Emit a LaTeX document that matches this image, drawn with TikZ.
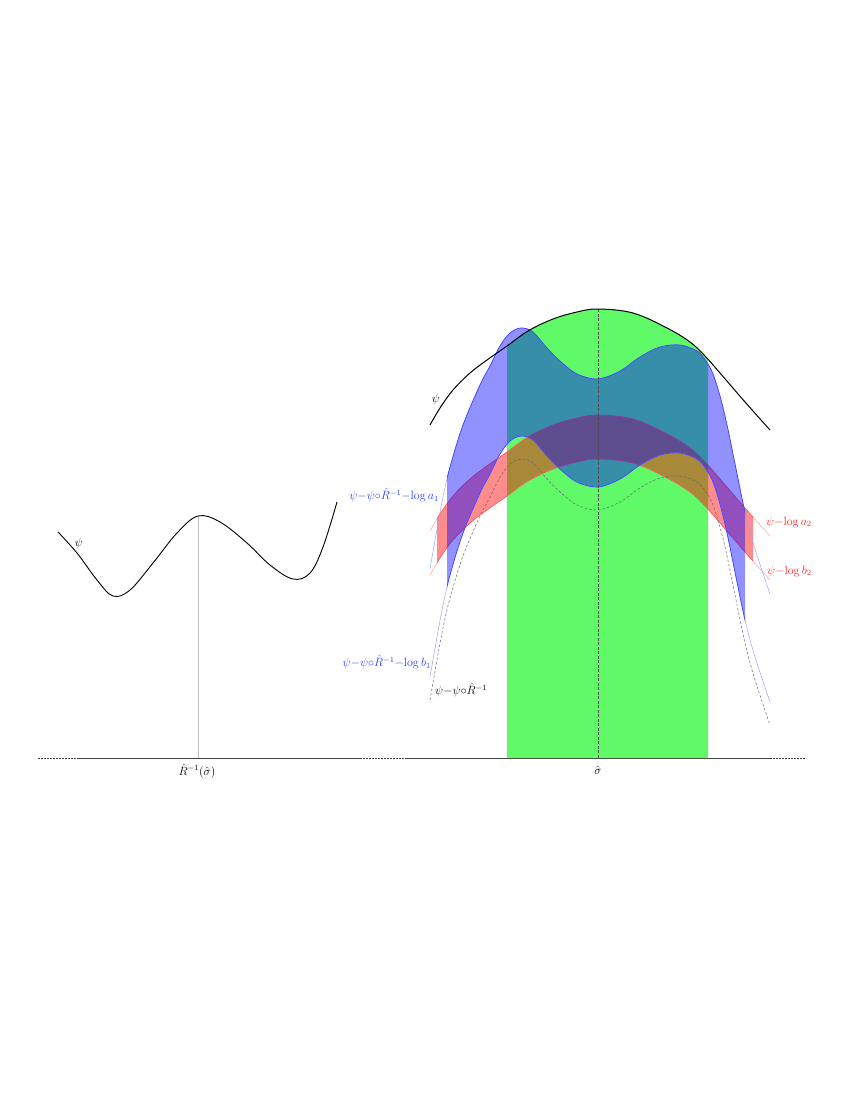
\documentclass[tikz,border=0pt]{standalone}
\definecolor{greenfill}{RGB}{96,250,104}
\definecolor{labelblue}{RGB}{35,60,255}
\definecolor{labelred}{RGB}{240,35,35}
\definecolor{bandblue}{RGB}{0,0,255}
\definecolor{bandred}{RGB}{255,0,0}
\tikzset{
  lbl/.style={inner sep=0pt, font=\fontsize{11.5}{13}\selectfont},
  bluelbl/.style={lbl, text=labelblue},
  redlbl/.style={lbl, text=labelred},
  axisdash/.style={draw=black!75, line width=0.7pt, dash pattern=on 2pt off 1pt},
  axissolid/.style={draw=black!75, line width=0.8pt},
  psiline/.style={draw=black, line width=1pt},
  bluefill/.style={fill=bandblue, fill opacity=0.43},
  redfill/.style={fill=bandred, fill opacity=0.45},
  bluethin/.style={draw=blue!40, line width=0.45pt},
  blueedge/.style={draw=blue!75, line width=0.7pt},
  redthin/.style={draw=red!40, line width=0.45pt},
  rededge/.style={draw=red!70, line width=0.5pt},
  graydash/.style={draw=black!60, line width=0.5pt, dash pattern=on 2.5pt off 2pt},
}
\def\Pcurve{plot[smooth,tension=0.6] coordinates {(430,425) (440,408) (453,390) (470,373) (487,360) (507,346) (528,331) (553,319) (577,312) (598,309) (633,313) (667,328) (690,342) (705,356) (720,373) (745,402) (770,430)}}
\def\Fcurve{plot[smooth,tension=0.55] coordinates {(430,700) (437,660) (443,628) (450,598) (463,556) (480,516) (490,497) (500,477) (510,464) (521,459) (533,463) (547,479) (560,492) (577,505) (598,510) (620,502) (640,488) (660,478) (680,476) (697,482) (706,492) (713,505) (720,527) (727,556) (735,595) (745,643) (755,680) (770,725)}}
\begin{document}
\begin{tikzpicture}[x=1pt,y=-1pt]
\useasboundingbox (0,0) rectangle (845,1093);

% ---------- left panel ----------
\draw[draw=black!25, line width=0.8pt] (198,516) -- (198,758);
\draw[psiline, line width=0.9pt] plot[smooth,tension=0.6] coordinates {(58,532) (77,553) (97,580) (113,596) (130,590) (153,563) (177,533) (198,516) (220,522) (247,543) (270,565) (293,579) (310,573) (323,547) (337,502)};
\node[lbl] (psiL) at (79,543) {$\psi$};
\node[lbl] (Rinv) at (197,771) {$\hat{R}^{-1}(\hat{\sigma})$};

% axes
\coordinate (a0) at (38,758);
\coordinate (a1) at (78,758);
\coordinate (a2) at (360,758);
\coordinate (a3) at (407,758);
\coordinate (a4) at (770,758);
\coordinate (a5) at (805,758);
\draw[axisdash] (a0) -- (a1);
\draw[axissolid] (a1) -- (a2);
\draw[axisdash] (a2) -- (a3);
\draw[axissolid] (a3) -- (a4);
\draw[axisdash] (a4) -- (a5);

% ---------- right panel ----------
% green region under psi
\begin{scope}
  \clip (507,0) rectangle (708,758);
  \fill[greenfill] \Pcurve -- (770,758) -- (430,758) -- cycle;
\end{scope}

% red band: psi - log a2 (upper) / psi - log b2 (lower)
\begin{scope}
  \clip (437,0) rectangle (753,1000);
  \begin{scope}[yshift=-150pt]
    \clip \Pcurve -- (770,0) -- (430,0) -- cycle;
    \begin{scope}[yshift=44pt]
      \fill[redfill] \Pcurve -- (770,1000) -- (430,1000) -- cycle;
    \end{scope}
  \end{scope}
\end{scope}
\draw[redthin, yshift=-106pt] \Pcurve;
\draw[redthin, yshift=-150pt] \Pcurve;
\begin{scope}
  \clip (437,0) rectangle (753,1000);
  \draw[rededge, yshift=-106pt] \Pcurve;
  \draw[rededge, yshift=-150pt] \Pcurve;
\end{scope}

% blue band: F - log a1 (upper) / F - log b1 (lower)
\begin{scope}
  \clip (447,0) rectangle (745,1000);
  \begin{scope}[yshift=23pt]
    \clip \Fcurve -- (770,0) -- (430,0) -- cycle;
    \begin{scope}[yshift=108pt]
      \fill[bluefill] \Fcurve -- (770,1000) -- (430,1000) -- cycle;
    \end{scope}
  \end{scope}
\end{scope}
\draw[bluethin, yshift=131pt] \Fcurve;
\draw[bluethin, yshift=23pt] \Fcurve;
\begin{scope}
  \clip (447,0) rectangle (745,1000);
  \draw[blueedge, yshift=131pt] \Fcurve;
  \draw[blueedge, yshift=23pt] \Fcurve;
\end{scope}

% dashed psi - psi o R^-1
\draw[graydash] \Fcurve;

% vertical dashed line at sigma hat
\coordinate (vtop) at (598,309);
\coordinate (vbot) at (598,758);
\draw[draw=black!70, line width=0.45pt, dash pattern=on 3pt off 1.5pt] (vtop) -- (vbot);

% psi (right)
\draw[psiline] \Pcurve;

% labels
\node[lbl] (psiR) at (436,399) {$\psi$};
\node[lbl] (sig) at (598,770) {$\hat{\sigma}$};
\node[bluelbl, anchor=east] (la1) at (439,495) {$\psi{-}\psi{\circ}\hat{R}^{-1}{-}\mathrm{log}\,a_1$};
\node[bluelbl, anchor=east] (lb1) at (431,662) {$\psi{-}\psi{\circ}\hat{R}^{-1}{-}\mathrm{log}\,b_1$};
\node[lbl, anchor=west] (lF) at (435,690) {$\psi{-}\psi{\circ}\hat{R}^{-1}$};
\node[redlbl, anchor=west] (la2) at (766,522) {$\psi{-}\mathrm{log}\,a_2$};
\node[redlbl, anchor=west] (lb2) at (767,571) {$\psi{-}\mathrm{log}\,b_2$};
\end{tikzpicture}
\end{document}
